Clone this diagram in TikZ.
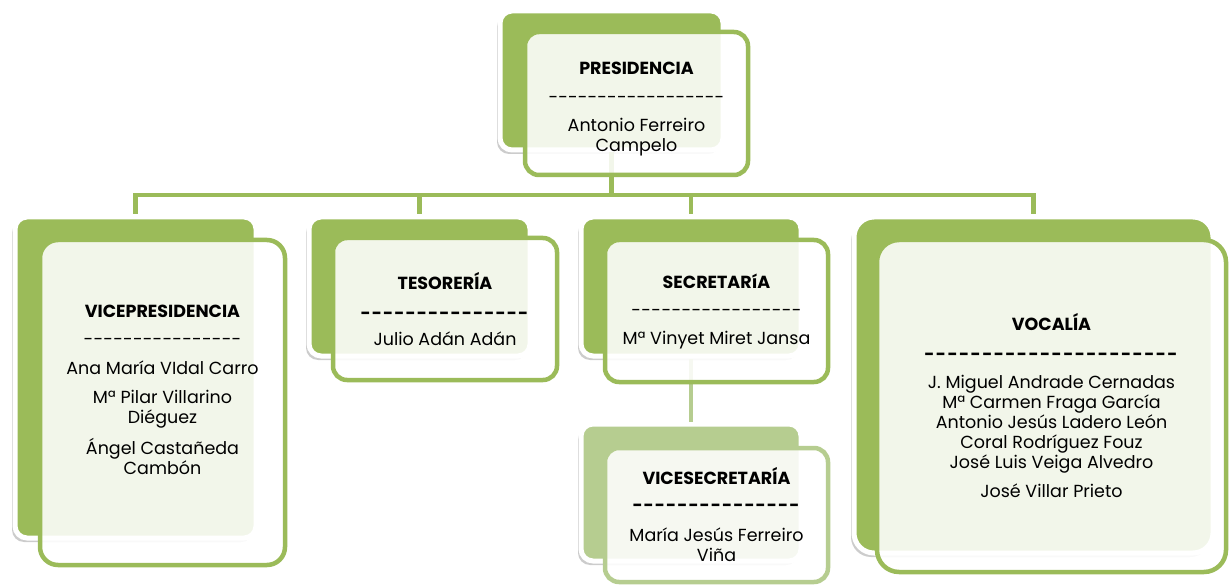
\documentclass[tikz,border=0pt]{standalone}
\usepackage{fontspec}
\setmainfont{Poppins}
\usetikzlibrary{shadows}
\definecolor{orggreen}{HTML}{9BBB59}
\definecolor{palegreen}{HTML}{B6CD90}
\newcommand\thindash[1]{\hbox to #1{\xleaders\hbox{-}\hfill}}
\newcommand\bolddash[1]{\hbox to #1{\xleaders\hbox{\bfseries -\kern1pt}\hfill}}
\tikzset{
  backbox/.style={rectangle, draw=white, line width=5pt, fill=#1, rounded corners=12pt, inner sep=0pt,
    drop shadow={shadow xshift=-3pt, shadow yshift=-4pt, opacity=0.4}},
  backbox/.default=orggreen,
  frontbox/.style={rectangle, draw=#1, line width=4.5pt, fill=white, fill opacity=0.88, text opacity=1,
    rounded corners=14pt, inner sep=0pt, align=center, font=\fontsize{17.5}{20}\selectfont},
  frontbox/.default=orggreen,
  link/.style={draw=#1, line width=4.5pt},
  link/.default=orggreen
}
\begin{document}
\begin{tikzpicture}[x=1pt,y=-1pt]
\useasboundingbox (0,0) rectangle (1229,585);

\node(presb)[backbox, minimum width=223pt, minimum height=139pt] at (611.5,80.5) {};
\node(vicb)[backbox, minimum width=241pt, minimum height=321pt] at (135.5,377.5) {};
\node(tesb)[backbox, minimum width=221pt, minimum height=139pt] at (419.5,286.5) {};
\node(secb)[backbox, minimum width=220pt, minimum height=139pt] at (691,286.5) {};
\node(vsecb)[backbox=palegreen, minimum width=220pt, minimum height=137pt] at (691,492.5) {};
\node(vocb)[backbox, minimum width=359pt, minimum height=336pt, rounded corners=20pt] at (1033.5,385) {};

\coordinate (bus) at (611.5,195);
\draw[link] (presb.south) -- (bus);
\foreach \n in {vicb,tesb,secb,vocb}
  \draw[link] (bus) -| (\n.north);
\draw[link=palegreen] (secb.south) -- (vsecb.north);

\node(pres)[frontbox, minimum width=223pt, minimum height=143pt] at (636.5,103.5)
  {\rule{0pt}{24pt}\textbf{PRESIDENCIA}\\[9pt] \thindash{176pt}\\[8pt] Antonio Ferreiro\\ Campelo};
\node(vic)[frontbox, minimum width=245pt, minimum height=325pt, rounded corners=18pt] at (162.5,402.5)
  {\textbf{VICEPRESIDENCIA}\\[8pt] \thindash{158pt}\\[9pt] Ana María VIdal Carro\\[9pt]
   Mª Pilar Villarino\\ Diéguez\\[9pt] Ángel Castañeda\\ Cambón\\[6pt]};
\node(tes)[frontbox, minimum width=224pt, minimum height=142pt] at (445,309)
  {\textbf{TESORERÍA}\\[10pt] \bolddash{169pt}\\[6pt] Julio Adán Adán};
\node(sec)[frontbox, minimum width=223pt, minimum height=142pt] at (716.5,311)
  {\textbf{SECRETARíA}\\[8pt] \thindash{171pt}\\[8pt] Mª Vinyet Miret Jansa};
\node(vsec)[frontbox=palegreen, minimum width=223pt, minimum height=134pt] at (716.5,515)
  {\textbf{VICESECRETARÍA}\\[7pt] \bolddash{168pt}\\[10pt] María Jesús Ferreiro\\ Viña};
\node(voc)[frontbox, minimum width=349pt, minimum height=332pt, rounded corners=22pt] at (1051.5,406)
  {\textbf{VOCALÍA}\\[10pt] \bolddash{255pt}\\[8pt] J. Miguel Andrade Cernadas\\ Mª Carmen Fraga García\\
   Antonio Jesús Ladero León\\ Coral Rodríguez Fouz\\ José Luis Veiga Alvedro\\[9pt] José Villar Prieto};
\end{tikzpicture}
\end{document}
